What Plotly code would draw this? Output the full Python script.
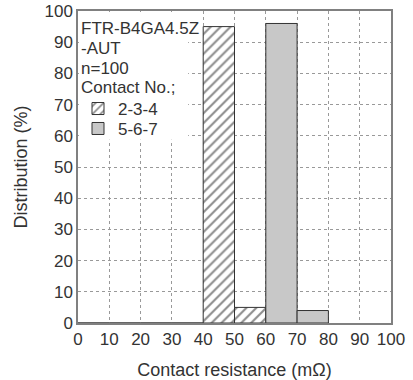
import plotly.graph_objects as go

bins_234 = [5, 15, 25, 35, 45, 55]
series_234 = [0, 0, 0, 0, 95, 5]
bins_567 = [65, 75]
series_567 = [96, 4]
tick_vals = [0, 10, 20, 30, 40, 50, 60, 70, 80, 90, 100]
info_lines = ["FTR-B4GA4.5Z", "-AUT", "n=100", "Contact No.;"]
info_y = [0.944, 0.880, 0.817, 0.754]

sans = "Liberation Sans, Arial, sans-serif"
tickfamily = "Liberation Sans Narrow, Arial Narrow, Liberation Sans, sans-serif"
txt = "#333333"

fig = go.Figure()
fig.add_trace(go.Bar(
    x=bins_234, y=series_234, width=10, name="2-3-4", legend="legend",
    marker=dict(color="white", line=dict(color="#333333", width=1),
                pattern=dict(shape="/", fgcolor="#1a1a1a", bgcolor="white",
                             size=7, solidity=0.3)),
))
fig.add_trace(go.Bar(
    x=bins_567, y=series_567, width=10, name="5-6-7", legend="legend2",
    marker=dict(color="#c8c8c8", line=dict(color="#333333", width=1)),
))

leg_common = dict(xanchor="left", yanchor="middle", bgcolor="rgba(0,0,0,0)",
                  borderwidth=0, font=dict(family=sans, size=17, color=txt),
                  itemwidth=30)

fig.update_layout(
    width=413, height=380,
    margin=dict(l=78, r=22, t=11, b=57),
    barmode="overlay",
    plot_bgcolor="white", paper_bgcolor="white",
    font=dict(family=sans, size=17, color=txt),
    showlegend=True,
    legend=dict(x=0.0, y=0.686, **leg_common),
    legend2=dict(x=0.0, y=0.622, **leg_common),
    shapes=[dict(type="rect", xref="paper", yref="paper", x0=0.003, x1=0.352,
                 y0=0.587, y1=0.997, fillcolor="white", line=dict(width=0),
                 layer="above")],
    annotations=[dict(text=t, x=0.003, y=yy, xref="paper", yref="paper",
                      xanchor="left", yanchor="middle", showarrow=False,
                      font=dict(family=sans, size=17, color=txt))
                 for t, yy in zip(info_lines, info_y)],
)
fig.update_xaxes(
    range=[0, 100], tickvals=tick_vals, ticks="", automargin=False,
    tickfont=dict(family=tickfamily, size=17, color=txt),
    showgrid=True, gridcolor="#999999", griddash="dot", gridwidth=1,
    showline=True, linecolor="#808080", linewidth=1.5, mirror=True,
    zeroline=False,
    title=dict(text="Contact resistance (mΩ)", font=dict(family=sans, size=18, color=txt), standoff=18),
)
fig.update_yaxes(
    range=[0, 100], tickvals=tick_vals, ticks="", automargin=False,
    tickfont=dict(family=tickfamily, size=17, color=txt),
    showgrid=True, gridcolor="#999999", griddash="dot", gridwidth=1,
    showline=True, linecolor="#808080", linewidth=1.5, mirror=True,
    zeroline=False,
    title=dict(text="Distribution (%)", font=dict(family=sans, size=18, color=txt), standoff=12),
)

fig.write_html("out.html")
